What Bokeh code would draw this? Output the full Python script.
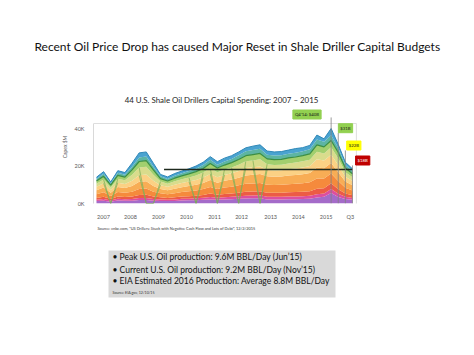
import numpy as np
from bokeh.plotting import figure
from bokeh.layouts import column
from bokeh.models import ColumnDataSource, Range1d, FixedTicker, Label, Title
from bokeh.embed import file_html
from bokeh.resources import INLINE

# ---------------- data (capital spending, $K million, quarterly 2006Q3..2015Q3) -------------
quarters = list(range(37))
purple    = [1.3,1.5,1.0,1.6,1.5,1.5,1.9,1.9,1.5,1.4,1.3,1.4,1.6,1.7,1.8,2.0,2.2,2.0,2.2,2.3,2.5,2.7,2.8,2.8,2.2,2.2,2.2,2.3,2.3,2.4,2.5,3.2,3.6,5.6,3.5,2.4,2.0]
magenta   = [0.7,0.9,0.6,0.9,0.8,0.9,1.1,1.1,0.9,0.8,0.7,0.8,0.9,0.9,1.0,1.1,1.3,1.1,1.2,1.3,1.4,1.5,1.5,1.6,1.4,1.4,1.4,1.4,1.5,1.5,1.6,1.8,1.7,2.2,1.7,1.2,1.0]
red       = [1.0,1.2,0.8,1.2,1.2,1.3,1.6,1.7,1.3,1.1,1.0,1.1,1.2,1.3,1.4,1.5,1.8,1.6,1.7,1.8,1.9,2.1,2.1,2.2,2.2,2.2,2.2,2.3,2.3,2.4,2.5,2.9,2.8,3.0,2.4,1.7,1.4]
orange    = [2.0,2.4,1.6,2.5,2.3,2.6,3.2,3.3,2.6,2.2,2.0,2.2,2.4,2.6,2.8,3.1,3.5,3.1,3.4,3.6,3.9,4.2,4.3,4.4,4.2,4.1,4.2,4.3,4.4,4.5,4.7,5.5,5.2,5.2,4.4,3.1,2.6]
lt_orange = [2.1,2.6,1.7,2.6,2.5,3.0,3.8,3.9,3.0,2.3,2.1,2.4,2.6,2.8,3.0,3.3,3.8,3.3,3.6,3.8,4.1,4.5,4.6,4.7,4.5,4.4,4.4,4.6,4.7,4.8,5.0,5.8,5.5,5.6,4.7,3.3,2.8]
pale      = [1.8,2.2,1.5,2.3,2.1,2.8,3.5,3.6,2.8,2.0,1.8,2.1,2.2,2.4,2.6,2.9,3.2,2.9,3.1,3.3,3.6,3.9,4.0,4.1,3.4,3.3,3.3,3.4,3.5,3.6,3.7,4.4,4.1,4.4,3.8,2.6,2.2]
olive     = [1.7,2.0,1.4,2.1,2.0,3.2,4.1,4.1,3.2,1.9,1.7,1.9,2.1,2.2,2.4,2.6,3.0,2.7,2.9,3.1,3.3,3.6,3.7,3.8,3.1,3.0,3.0,3.1,3.2,3.3,3.4,4.0,3.8,4.0,3.5,2.4,2.0]
green     = [1.4,1.7,1.2,1.8,1.7,2.6,3.2,3.3,2.6,1.6,1.4,1.6,1.7,1.9,2.0,2.2,2.5,2.2,2.4,2.6,2.8,3.0,3.1,3.1,2.8,2.8,2.8,2.9,2.9,3.0,3.1,3.7,3.5,3.6,3.2,2.2,1.9]
teal      = [1.1,1.4,0.9,1.4,1.3,1.7,2.2,2.2,1.7,1.2,1.1,1.3,1.4,1.5,1.6,1.8,2.0,1.8,1.9,2.0,2.2,2.4,2.4,2.5,2.2,2.2,2.2,2.3,2.3,2.4,2.5,2.9,2.8,2.8,2.4,1.7,1.4]
blue      = [0.9,1.1,0.8,1.1,1.1,1.9,2.4,2.4,1.9,1.0,1.1,1.2,1.2,1.2,1.4,1.5,1.7,1.6,1.8,1.7,1.8,1.8,2.1,2.1,2.0,1.9,2.0,1.9,2.2,1.9,2.0,2.3,1.5,3.6,1.9,1.4,1.2]

olive_gaps = [2, 7, 8, 14, 17, 20, 23]          # quarters where one driller series is missing

year_tick_pos = [0.98, 4.78, 8.72, 12.66, 16.6, 20.4, 24.5, 28.4, 32.3, 35.7]
year_labels = ["2007", "2008", "2009", "2010", "2011", "2012", "2013", "2014", "2015", "Q3"]
y_ticks = [0, 20, 40]
y_labels = ["0K", "20K", "40K"]

reset_level = 18.2
reset_span = [9.5, 36]

callout_idx = [33, 34, 35, 36]
callout_text = ["Q4'14: $40B", "$31B", "$22B", "$18B"]

slide_title = "Recent Oil Price Drop has caused Major Reset in Shale Driller Capital Budgets"
chart_title = "44 U.S. Shale Oil Drillers Capital Spending: 2007 \u2013 2015"
chart_source = "Source: cnbc.com, \u201cUS Drillers: Stuck with Negative Cash Flow and Lots of Debt\u201d, 12/2/2015"
bullets = ["\u2022 Peak U.S. Oil production:  9.6M BBL/Day (Jun\u201915)",
           "\u2022 Current U.S. Oil production:  9.2M BBL/Day  (Nov\u201915)",
           "\u2022 EIA Estimated 2016 Production:  Average 8.8M BBL/Day"]
bullet_source = "Source:  EIA.gov, 12/10/15"

FONT = "Lato"
W = 466


def blank(fig):
    fig.outline_line_color = None
    fig.grid.grid_line_color = None
    fig.border_fill_color = "white"


# ---------------- slide title strip ----------------
t = figure(width=W, height=70, output_backend="svg", toolbar_location=None,
           x_axis_location=None, y_axis_location=None, frame_align=False,
           x_range=Range1d(0, 1), y_range=Range1d(0, 1),
           min_border_left=0, min_border_right=0, min_border_top=0, min_border_bottom=0)
blank(t)
t.add_layout(Label(x=237, y=24, x_units="screen", y_units="screen", text=slide_title,
                   text_align="center", text_baseline="middle",
                   text_font=FONT, text_font_size="12px", text_color="#111111"))

# ---------------- chart ----------------
layers = [purple, magenta, red, orange, lt_orange, pale, olive, green, teal, blue]
names = ["purple", "magenta", "red", "orange", "lt_orange", "pale", "olive", "green", "teal", "blue"]
colors = ["#a46bc9", "#dc4f9f", "#ec5b45", "#f58a3c", "#f8ad55", "#fbd184", "#d9dc8c", "#a2cf6e", "#5db5a3", "#4aa3d0"]
src = ColumnDataSource(dict(x=quarters, **{n: v for n, v in zip(names, layers)}))

Y_TOP_AXIS = 42.67
p = figure(width=W, height=170, output_backend="svg", toolbar_location=None, frame_align=False,
           x_range=Range1d(-0.42, 39.24), y_range=Range1d(0, 60.27),
           min_border_left=93, min_border_right=91, min_border_top=20, min_border_bottom=37)
blank(p)
p.background_fill_color = "white"

p.varea_stack(stackers=names, x="x", color=colors, source=src)
cum = np.cumsum(np.array(layers), axis=0)
p.line(quarters, cum[7], line_color="#3b8e44", line_width=1.2)
p.line(quarters, cum[-1], line_color="#2f88b8", line_width=1)

lo = cum[5].copy()
hi = cum[6].copy()
lo[olive_gaps] = 0
hi[olive_gaps] = 0
runs = []
for g in olive_gaps:
    if runs and g == runs[-1][-1] + 1:
        runs[-1].append(g)
    else:
        runs.append([g])
pxs, pys, lxs, lys = [], [], [], []
for r in runs:
    idx = list(range(r[0] - 1, r[-1] + 2))
    pxs.append(idx + idx[::-1])
    pys.append(list(hi[idx]) + list(lo[idx][::-1]))
    lxs += [idx, idx]
    lys += [list(hi[idx]), list(lo[idx])]
p.patches(pxs, pys, fill_color="#c2d884", fill_alpha=0.5, line_color=None)
p.multi_line(lxs, lys, line_color="#79ad55", line_width=0.9, line_alpha=0.75)

p.line(reset_span, [reset_level, reset_level], line_color="#1e2a1e", line_width=1.5)

# faint chart panel edges (top and right)
p.line([-0.42, 36.55, 36.55], [Y_TOP_AXIS, Y_TOP_AXIS, -1], line_color="#dedede", line_width=1)

# callout lines and boxes
box_bottom_data = [45.9, 37.6, 28.3, 20.3]
p.segment(x0=callout_idx, y0=[0] * 4, x1=callout_idx, y1=box_bottom_data,
          line_color="#808080", line_width=0.8)
cpos = [(213.5, 89), (252, 75.3), (260.3, 58), (269.2, 43)]
cbg = ["#92d050", "#92d050", "#ffff00", "#c00000"]
cfg = ["#1a1a1a", "#1a1a1a", "#1a1a1a", "#ffffff"]
for (sx, sy), txt, bg, fg in zip(cpos, callout_text, cbg, cfg):
    p.add_layout(Label(x=sx, y=sy, x_units="screen", y_units="screen", text=txt,
                       text_align="center", text_baseline="middle",
                       text_font=FONT, text_font_size="4.3px", text_color=fg,
                       background_fill_color=bg, border_line_color=bg, padding=2))

p.add_layout(Label(x=128, y=104, x_units="screen", y_units="screen", text=chart_title,
                   text_align="center", text_baseline="middle",
                   text_font=FONT, text_font_size="7.9px", text_color="#262626"))

# axes
p.xaxis.ticker = FixedTicker(ticks=year_tick_pos)
p.xaxis.major_label_overrides = {tk: lb for tk, lb in zip(year_tick_pos, year_labels)}
p.xaxis.axis_line_color = None
p.xaxis.major_tick_line_color = None
p.xaxis.minor_tick_line_color = None
p.xaxis.major_label_text_font_size = "5.5px"
p.xaxis.major_label_text_color = "#595959"
p.xaxis.major_label_text_font = FONT
p.xaxis.major_label_standoff = 4

p.yaxis.ticker = FixedTicker(ticks=y_ticks)
p.yaxis.bounds = (0, Y_TOP_AXIS)
p.yaxis.major_label_overrides = {tk: lb for tk, lb in zip(y_ticks, y_labels)}
p.yaxis.axis_line_color = "#d9d9d9"
p.yaxis.major_tick_line_color = None
p.yaxis.minor_tick_line_color = None
p.yaxis.major_label_text_font_size = "5.5px"
p.yaxis.major_label_text_color = "#595959"
p.yaxis.major_label_text_font = FONT
p.yaxis.major_label_standoff = 3
p.yaxis.axis_label = "Capex $M"
p.yaxis.axis_label_text_font_size = "5px"
p.yaxis.axis_label_text_font_style = "normal"
p.yaxis.axis_label_text_color = "#595959"
p.yaxis.axis_label_text_font = FONT
p.yaxis.axis_label_standoff = 3

p.add_layout(Title(text=chart_source, align="left", offset=4, standoff=3,
                   text_font=FONT, text_font_size="3.9px", text_font_style="normal",
                   text_color="#333333"), "below")

# ---------------- bullet box ----------------
q = figure(width=W, height=107, output_backend="svg", toolbar_location=None,
           x_axis_location=None, y_axis_location=None, frame_align=False,
           x_range=Range1d(0, 1), y_range=Range1d(0, 1),
           min_border_left=108, min_border_right=131, min_border_top=10, min_border_bottom=50)
blank(q)
q.background_fill_color = "#d9d9d9"
for txt, sy in zip(bullets, [40.3, 27.7, 16.3]):
    q.add_layout(Label(x=4, y=sy, x_units="screen", y_units="screen", text=txt,
                       text_align="left", text_baseline="middle",
                       text_font=FONT, text_font_size="8.5px", text_color="#111111"))
q.add_layout(Label(x=4, y=4.7, x_units="screen", y_units="screen", text=bullet_source,
                   text_align="left", text_baseline="middle",
                   text_font=FONT, text_font_size="3.6px", text_color="#333333"))

layout = column(t, p, q, spacing=0)
open("out.html", "w").write(file_html(layout, INLINE))
